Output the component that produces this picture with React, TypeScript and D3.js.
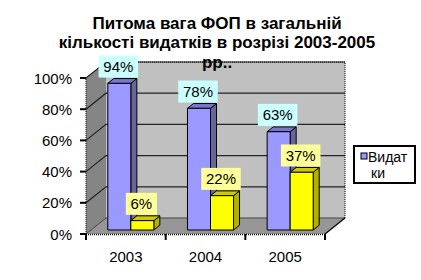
import React from "react";
import * as d3 from "d3";

const categories = ["2003", "2004", "2005"];
const seriesNames = ["Видатки", "ФОП"];
const seriesA = [0.94, 0.78, 0.63];
const seriesB = [0.06, 0.22, 0.37];
const yTicks = [0, 0.2, 0.4, 0.6, 0.8, 1.0];
const titleLines = ["Питома вага ФОП в загальній", "кількості видатків в розрізі 2003-2005", "рр.."];
const legendLines = ["Видат", "ки"];

const W = 421;
const H = 280;
const DX = 20;
const DY = 16;
const FONT = "'Liberation Sans', Arial, sans-serif";

const styles = [
  { front: "#9999FF", top: "#7777CC", side: "#666699", label: "#CCFFFF" },
  { front: "#FFFF00", top: "#CCCC00", side: "#B2B200", label: "#FFFF99" },
];

export default function App() {
  const x = d3.scaleBand<string>().domain(categories).range([86, 325]).padding(0);
  const x1 = d3
    .scaleBand<string>()
    .domain(seriesNames)
    .range([0, x.bandwidth()])
    .paddingInner(0)
    .paddingOuter(0.73);
  const y = d3.scaleLinear().domain([0, 1]).range([234, 78]);

  const P = (px: number, v: number, d: number): [number, number] => [px + d * DX, y(v) - d * DY];
  const pts = (arr: [number, number][]) => arr.map((p) => p.join(",")).join(" ");

  const x0 = x.range()[0];
  const xe = x.range()[1];
  const data = [seriesA, seriesB];

  const dFront = 0.25;
  const dBack = 0.55;

  const bars: React.ReactNode[] = [];
  const labels: React.ReactNode[] = [];
  categories.forEach((c, ci) => {
    seriesNames.forEach((s, si) => {
      const v = data[si][ci];
      const bx0 = (x(c) as number) + (x1(s) as number);
      const bx1 = bx0 + x1.bandwidth();
      const st = styles[si];
      const ftl = P(bx0, v, dFront);
      const ftr = P(bx1, v, dFront);
      const fbr = P(bx1, 0, dFront);
      const fbl = P(bx0, 0, dFront);
      const btl = P(bx0, v, dBack);
      const btr = P(bx1, v, dBack);
      const bbr = P(bx1, 0, dBack);
      bars.push(
        <g key={`b${ci}${si}`} stroke="#000" strokeWidth={1} strokeLinejoin="round">
          <polygon points={pts([ftr, btr, bbr, fbr])} fill={st.side} />
          <polygon points={pts([ftl, ftr, btr, btl])} fill={st.top} />
          <polygon points={pts([ftl, ftr, fbr, fbl])} fill={st.front} />
        </g>
      );
      const txt = `${Math.round(v * 100)}%`;
      const bw = txt.length * 8.5 + 14;
      const cx = (ftl[0] + ftr[0]) / 2 - 1;
      const bottom = btl[1] - 1;
      labels.push(
        <g key={`l${ci}${si}`}>
          <rect x={cx - bw / 2} y={bottom - 22} width={bw} height={22} fill={st.label} />
          <text x={cx} y={bottom - 5.5} textAnchor="middle" fontSize={15} fontFamily={FONT} fill="#000">
            {txt}
          </text>
        </g>
      );
    });
  });

  const wallTopL = P(x0, 1, 1);
  const wallTopR = P(xe, 1, 1);
  const wallBotR = P(xe, 0, 1);
  const wallBotL = P(x0, 0, 1);

  return (
    <svg width={W} height={H} style={{ position: "absolute", left: 0, top: 0, background: "#fff" }}>
      <rect width={W} height={H} fill="#fff" />
      {/* back wall */}
      <polygon points={pts([wallTopL, wallTopR, wallBotR, wallBotL])} fill="#C0C0C0" />
      {/* left wall */}
      <polygon points={pts([P(x0, 1, 0), wallTopL, wallBotL, P(x0, 0, 0)])} fill="#858585" />
      {/* floor */}
      <polygon points={pts([P(x0, 0, 0), wallBotL, wallBotR, P(xe, 0, 0)])} fill="#969696" />
      {/* gridlines */}
      {yTicks.filter((t) => t > 0).map((t) => (
        <g key={`g${t}`} stroke="#222" strokeWidth={1.2} fill="none">
          <polyline points={pts([P(x0, t, 0), P(x0, t, 1), P(xe, t, 1)])} />
        </g>
      ))}
      <polyline points={pts([P(x0, 0, 0), P(x0, 0, 1), P(xe, 0, 1)])} stroke="#444" strokeWidth={1} fill="none" />
      {/* wall border dotted */}
      <polyline
        points={pts([wallTopL, wallTopR, wallBotR])}
        stroke="#000"
        strokeWidth={1}
        strokeDasharray="1,1"
        fill="none"
      />
      <line x1={P(xe, 0, 0)[0]} y1={P(xe, 0, 0)[1]} x2={wallBotR[0]} y2={wallBotR[1]} stroke="#000" strokeWidth={1.2} />
      {bars}
      {/* axes */}
      <line x1={x0} y1={y(0)} x2={x0} y2={y(1)} stroke="#000" strokeWidth={1} strokeDasharray="1,1" />
      <line x1={x0} y1={y(0) + 0.5} x2={xe} y2={y(0) + 0.5} stroke="#000" strokeWidth={1.5} strokeDasharray="1,1" />
      {yTicks.map((t) => (
        <g key={`yt${t}`}>
          <line x1={x0 - 6} x2={x0} y1={y(t)} y2={y(t)} stroke="#000" strokeWidth={2} />
          <text x={72} y={y(t) + 5.5} textAnchor="end" fontSize={15} fontFamily={FONT} fill="#000">
            {`${Math.round(t * 100)}%`}
          </text>
        </g>
      ))}
      {[x0, ...categories.map((c) => (x(c) as number) + x.bandwidth())].map((px, i) => (
        <line key={`xt${i}`} x1={px} x2={px} y1={y(0)} y2={y(0) + 6} stroke="#000" strokeWidth={2} />
      ))}
      {categories.map((c) => (
        <text
          key={`xl${c}`}
          x={(x(c) as number) + x.bandwidth() / 2}
          y={262}
          textAnchor="middle"
          fontSize={15}
          fontFamily={FONT}
          fill="#000"
        >
          {c}
        </text>
      ))}
      {labels}
      {/* title */}
      {titleLines.map((l, i) => (
        <text
          key={`t${i}`}
          x={217}
          y={28.5 + i * 19.5}
          textAnchor="middle"
          fontSize={17}
          fontWeight="bold"
          fontFamily={FONT}
          fill="#000"
        >
          {l}
        </text>
      ))}
      {/* legend */}
      <rect x={354} y={146} width={61} height={37} fill="#fff" stroke="#000" strokeWidth={2} />
      <rect x={361} y={153} width={6} height={6} fill={styles[0].front} stroke="#000" strokeWidth={1} />
      <text x={368} y={162} fontSize={14} fontFamily={FONT} fill="#000">
        {legendLines[0]}
      </text>
      <text x={371} y={178} fontSize={14} fontFamily={FONT} fill="#000">
        {legendLines[1]}
      </text>
    </svg>
  );
}
